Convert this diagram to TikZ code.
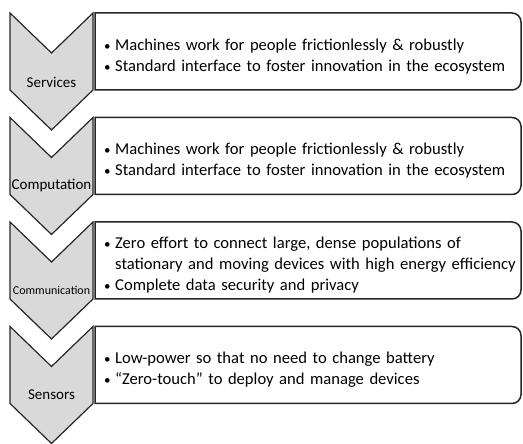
\documentclass[tikz,border=0pt]{standalone}
\usepackage{fontspec}
\setmainfont{Carlito}
\usetikzlibrary{positioning}

\definecolor{chevgray}{HTML}{D9D9D9}
\definecolor{edgegray}{HTML}{262626}

\newcommand{\bul}[1]{\par\hangindent=11pt\hangafter=1\noindent
  \makebox[11pt][l]{\fontsize{13}{13}\selectfont\textbullet}#1}
% one chevron, #1 = top edge
\newcommand{\chevron}[1]{%
  \draw[chev] (10,#1) -- (51.5,#1-40) -- (93,#1) -- (93,#1-77)
    -- (51.5,#1-117) -- (10,#1-77) -- cycle;}
% box with the right corners rounded, #1 = top edge
\newcommand{\stagebox}[1]{%
  \draw[stage] (95,#1) -- (512,#1) arc[start angle=90, end angle=0, radius=9]
    -- (521,#1-68) arc[start angle=0, end angle=-90, radius=9] -- (95,#1-77) -- cycle;}

\begin{document}
\begin{tikzpicture}[x=1pt, y=1pt]
  \tikzstyle{chev}=[draw=edgegray, fill=chevgray, line width=1.2pt, line join=miter]
  \tikzstyle{stage}=[draw=edgegray, fill=white, line width=1.5pt]
  \tikzstyle{lbl}=[inner sep=0pt, font=\fontsize{15}{17}\selectfont]
  \tikzstyle{items}=[anchor=west, inner sep=0pt, text width=414pt, align=left,
  font=\fontsize{16.6}{21}\selectfont]

  \useasboundingbox (0,0) rectangle (523,444);

  \chevron{431}
  \chevron{326.5}
  \chevron{222}
  \chevron{117.5}

  \stagebox{431}
  \stagebox{326.5}
  \stagebox{222}
  \stagebox{117.5}

  \node (services) at (51.5,362) [lbl] {Services};
  \node (computation) at (51.5,258) [lbl] {Computation};
  \node (communication) at (51.5,154) [lbl, font=\fontsize{12}{14}\selectfont] {Communication};
  \node (sensors) at (51.5,49) [lbl] {Sensors};

  \node (servicesTxt) at (104,392.5) [items]
  {\bul{Machines work for people frictionlessly \& robustly}
   \bul{Standard interface to foster innovation in the ecosystem}};
  \node (computationTxt) at (104,288) [items]
  {\bul{Machines work for people frictionlessly \& robustly}
   \bul{Standard interface to foster innovation in the ecosystem}};
  \node (communicationTxt) at (104,183.5) [items]
  {\bul{Zero effort to connect large, dense populations of\newline stationary and moving devices with high energy efficiency}
   \bul{Complete data security and privacy}};
  \node (sensorsTxt) at (104,79) [items]
  {\bul{Low-power so that no need to change battery}
   \bul{“Zero-touch” to deploy and manage devices}};

\end{tikzpicture}
\end{document}
